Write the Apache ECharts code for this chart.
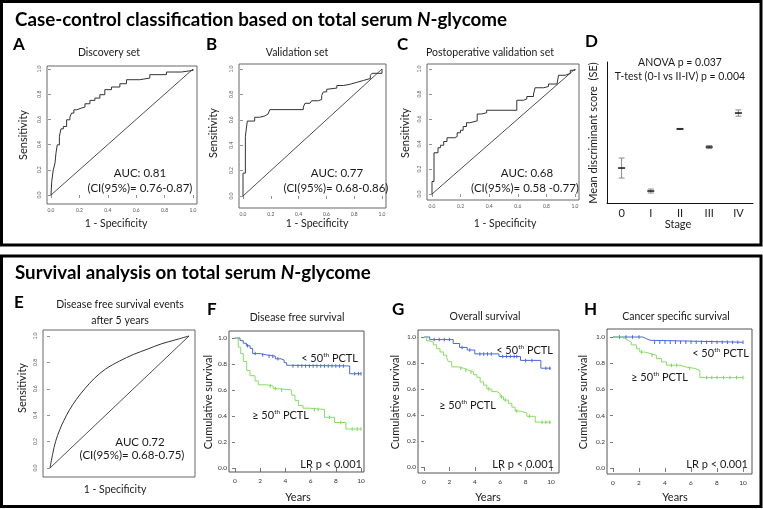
<!DOCTYPE html>
<html><head><meta charset="utf-8">
<script src="https://cdn.jsdelivr.net/npm/echarts@6/dist/echarts.min.js"></script>
<style>html,body{margin:0;padding:0;background:#fff}#c{width:763px;height:509px}</style>
</head><body><div id="c"></div>
<script>
// ---------------- DATA ----------------
const rocTicks = [0, 0.2, 0.4, 0.6, 0.8, 1.0];
const survYTicks = [0, 0.2, 0.4, 0.6, 0.8, 1.0];
const survXTicks = [0, 2, 4, 6, 8, 10];
const diagonal = [0, 1];

// A: Discovery set ROC
const rocAFpr = [0, 0.005, 0.016, 0.028, 0.035, 0.044, 0.059, 0.070, 0.087, 0.110, 0.133, 0.145, 0.161, 0.180, 0.215, 0.239, 0.274, 0.309, 0.344, 0.379, 0.426, 0.485, 0.532, 0.625, 0.696, 0.813, 0.918, 1];
const rocATpr = [0, 0.106, 0.199, 0.252, 0.332, 0.398, 0.464, 0.525, 0.544, 0.597, 0.618, 0.650, 0.676, 0.690, 0.698, 0.724, 0.751, 0.769, 0.796, 0.836, 0.857, 0.883, 0.915, 0.928, 0.955, 0.976, 0.989, 1];
// B: Validation set ROC
const rocBFpr = [0, 0, 0.017, 0.031, 0.084, 0.12, 0.157, 0.18, 0.193, 0.434, 0.446, 0.482, 0.494, 0.542, 0.566, 0.578, 0.602, 0.614, 0.675, 0.723, 0.771, 0.819, 0.867, 0.916, 0.928, 1, 1];
const rocBTpr = [0, 0.18, 0.47, 0.59, 0.62, 0.63, 0.645, 0.66, 0.68, 0.70, 0.73, 0.74, 0.75, 0.76, 0.79, 0.82, 0.84, 0.85, 0.87, 0.88, 0.895, 0.91, 0.925, 0.95, 0.966, 0.966, 1];
// C: Postoperative validation set ROC
const rocCFpr = [0, 0, 0.014, 0.042, 0.059, 0.082, 0.105, 0.159, 0.176, 0.199, 0.218, 0.241, 0.265, 0.316, 0.347, 0.382, 0.593, 0.639, 0.663, 0.710, 0.721, 0.780, 0.815, 0.874, 0.885, 0.932, 0.967, 1];
const rocCTpr = [0, 0.10, 0.33, 0.37, 0.39, 0.42, 0.45, 0.46, 0.49, 0.51, 0.54, 0.57, 0.585, 0.64, 0.65, 0.67, 0.75, 0.76, 0.78, 0.80, 0.85, 0.86, 0.88, 0.89, 0.95, 0.965, 0.99, 1];
// D: mean discriminant score by stage (arbitrary units)
const stageCategories = ['0', 'I', 'II', 'III', 'IV'];
const stageMean = [2.48, 0.85, 5.25, 3.97, 6.38];
const stageSE = [0.71, 0.14, 0.04, 0.11, 0.22];
// E: DFS events ROC (smooth)
const rocEFpr = [0, 0.02, 0.04, 0.07, 0.10, 0.14, 0.19, 0.25, 0.32, 0.40, 0.50, 0.60, 0.70, 0.80, 0.90, 1];
const rocETpr = [0, 0.11, 0.20, 0.29, 0.36, 0.44, 0.52, 0.60, 0.68, 0.75, 0.81, 0.86, 0.90, 0.94, 0.97, 1];
// F: Disease free survival
const dfsLowT = [0, 0.4, 0.65, 0.9, 1.2, 1.4, 2.0, 2.5, 3.2, 3.65, 3.9, 4.1, 4.4, 9.1, 10];
const dfsLowS = [1, 0.98, 0.96, 0.94, 0.92, 0.88, 0.87, 0.86, 0.84, 0.83, 0.81, 0.79, 0.785, 0.725, 0.725];
const dfsLowCensor = [1.0, 1.6, 2.2, 2.7, 3.0, 3.4, 4.6, 5.0, 5.3, 5.6, 5.9, 6.2, 6.5, 6.8, 7.1, 7.4, 7.7, 8.0, 8.3, 8.6, 9.5, 9.8, 10];
const dfsHighT = [0, 0.26, 0.45, 0.66, 0.93, 1.19, 1.59, 1.85, 2.51, 3.04, 3.44, 4.5, 4.76, 5.03, 5.4, 5.9, 7.1, 7.9, 8.8, 10];
const dfsHighS = [1, 0.93, 0.88, 0.82, 0.75, 0.71, 0.67, 0.64, 0.63, 0.61, 0.60, 0.56, 0.52, 0.48, 0.46, 0.45, 0.39, 0.35, 0.30, 0.30];
const dfsHighCensor = [2.8, 3.2, 3.7, 6.3, 6.6, 7.5, 8.4, 9.3, 9.7, 10];
// G: Overall survival
const osLowT = [0, 0.45, 2.3, 2.8, 3.4, 4.0, 5.9, 7.6, 9.2, 10];
const osLowS = [1, 0.98, 0.95, 0.92, 0.90, 0.87, 0.85, 0.82, 0.76, 0.76];
const osLowCensor = [0.8, 1.2, 1.6, 2.0, 3.0, 3.6, 4.4, 4.7, 5.0, 5.3, 6.2, 6.5, 6.8, 7.1, 7.3, 8.0, 8.5, 9.6, 9.9];
const osHighT = [0, 0.21, 0.47, 0.74, 1.0, 1.26, 1.53, 1.79, 1.92, 2.18, 2.71, 3.1, 3.5, 3.9, 4.16, 4.42, 4.68, 4.95, 5.34, 5.74, 6.0, 6.26, 6.66, 6.92, 7.18, 7.58, 8.1, 8.76, 10];
const osHighS = [1, 0.97, 0.96, 0.94, 0.91, 0.885, 0.86, 0.84, 0.81, 0.77, 0.76, 0.745, 0.73, 0.71, 0.69, 0.655, 0.63, 0.60, 0.58, 0.565, 0.54, 0.515, 0.49, 0.46, 0.43, 0.415, 0.39, 0.345, 0.345];
const osHighCensor = [2.9, 3.3, 3.7, 5.1, 6.1, 6.4, 7.3, 8.3, 9.3, 9.6, 9.9];
// H: Cancer specific survival
const cssLowT = [0, 2.3, 2.5, 2.85, 10];
const cssLowS = [1, 0.99, 0.975, 0.96, 0.96];
const cssLowCensor = [0.5, 1.0, 1.5, 2.0, 3.2, 3.6, 4.0, 4.4, 4.8, 5.2, 5.6, 6.0, 6.4, 6.8, 7.2, 7.6, 8.0, 8.4, 8.8, 9.2, 9.6, 10];
const cssHighT = [0, 0.5, 0.9, 1.16, 1.41, 1.8, 2.06, 2.44, 2.83, 3.34, 3.73, 4.11, 5.14, 5.66, 6.3, 6.68, 10];
const cssHighS = [1, 0.99, 0.975, 0.96, 0.94, 0.91, 0.885, 0.875, 0.86, 0.835, 0.81, 0.785, 0.77, 0.76, 0.745, 0.69, 0.69];
const cssHighCensor = [2.2, 3.0, 4.5, 4.9, 5.9, 7.2, 7.6, 8.0, 8.5, 9.0, 9.5, 10];

// ---------------- LAYOUT ----------------
const FONT = 'Lato, "Open Sans", sans-serif';
const BLUE = '#4a68d8', BLUE_D = '#2a44b8', GREEN = '#86de62', GREEN_D = '#5cc23a';
// box: [left, top, right, bottom]; x/y: [pixel of 0, pixel of unit, unit]
const L = {
  A: {box: [47, 66, 197, 204], x: [51, 193, 1], y: [195, 69, 1]},
  B: {box: [239, 64, 386, 208], x: [243, 382, 1], y: [196, 69, 1]},
  C: {box: [427, 64, 579, 200], x: [432, 575, 1], y: [194, 69, 1]},
  E: {box: [43, 330, 195, 477], x: [50, 189, 1], y: [468, 336, 1]},
  F: {box: [229, 331, 364, 472], x: [235, 361, 10], y: [468, 338, 1]},
  G: {box: [418, 330, 559, 473], x: [424, 551, 10], y: [467, 337, 1]},
  H: {box: [607, 329, 752, 474], x: [613, 743, 10], y: [468, 337, 1]}
};
function gridOf(p) {
  return {left: p.box[0], top: p.box[1], width: p.box[2] - p.box[0], height: p.box[3] - p.box[1],
    show: true, borderColor: '#666', borderWidth: 1, containLabel: false, backgroundColor: 'transparent'};
}
function xRange(p) {
  const ppu = (p.x[1] - p.x[0]) / p.x[2];
  return {min: (p.box[0] - p.x[0]) / ppu, max: (p.box[2] - p.x[0]) / ppu};
}
function yRange(p) {
  const ppu = (p.y[0] - p.y[1]) / p.y[2];
  return {min: (p.y[0] - p.box[3]) / ppu, max: (p.y[0] - p.box[1]) / ppu};
}
function zip(a, b) { return a.map((v, i) => [v, b[i]]); }
function stepAt(T, S, t) { let s = S[0]; for (let i = 0; i < T.length; i++) { if (T[i] <= t) s = S[i]; } return s; }

const grids = [], xAxes = [], yAxes = [], series = [];
function rocPanel(key, showXLabels) {
  const p = L[key]; const gi = grids.length;
  grids.push(gridOf(p));
  const xr = xRange(p), yr = yRange(p);
  xAxes.push({gridIndex: gi, type: 'value', min: xr.min, max: xr.max, axisLine: {show: false}, splitLine: {show: false},
    axisTick: {show: showXLabels, customValues: rocTicks, length: 3, lineStyle: {color: '#777', width: 0.8}},
    axisLabel: {show: showXLabels, customValues: rocTicks, formatter: v => v.toFixed(1), fontSize: 5, color: '#555', margin: 4, fontFamily: FONT}});
  yAxes.push({gridIndex: gi, type: 'value', min: yr.min, max: yr.max, axisLine: {show: false}, splitLine: {show: false},
    axisTick: {show: true, customValues: rocTicks, length: 3, lineStyle: {color: '#777', width: 0.8}},
    axisLabel: {show: true, customValues: rocTicks, formatter: v => v.toFixed(1), fontSize: 5, color: '#555', margin: 5, rotate: 90, fontFamily: FONT}});
  return gi;
}
function survPanel(key) {
  const p = L[key]; const gi = grids.length;
  const g = gridOf(p); g.borderColor = '#555';
  grids.push(g);
  const xr = xRange(p), yr = yRange(p);
  xAxes.push({gridIndex: gi, type: 'value', min: xr.min, max: xr.max, axisLine: {show: false}, splitLine: {show: false},
    axisTick: {show: true, customValues: survXTicks, length: 4, lineStyle: {color: '#555', width: 0.8}},
    axisLabel: {show: true, customValues: survXTicks, formatter: v => String(v), fontSize: 6.5, color: '#333', margin: 5, fontFamily: FONT}});
  yAxes.push({gridIndex: gi, type: 'value', min: yr.min, max: yr.max, axisLine: {show: false}, splitLine: {show: false},
    axisTick: {show: true, customValues: survYTicks, length: 3, lineStyle: {color: '#555', width: 0.8}},
    axisLabel: {show: true, customValues: survYTicks, formatter: v => v.toFixed(1), fontSize: 6.5, color: '#333', margin: 2, fontFamily: FONT}});
  return gi;
}
function rocSeries(gi, fpr, tpr, smooth) {
  series.push({type: 'line', xAxisIndex: gi, yAxisIndex: gi, data: zip(diagonal, diagonal), showSymbol: false, silent: true,
    lineStyle: {color: '#222', width: 0.8}});
  const s = {type: 'line', xAxisIndex: gi, yAxisIndex: gi, data: zip(fpr, tpr), showSymbol: false, silent: true,
    lineStyle: {color: '#333', width: 1}};
  if (smooth) s.smooth = 0.35; else s.step = 'end';
  series.push(s);
}
function kmSeries(gi, T, S, C, color, dark) {
  series.push({type: 'line', xAxisIndex: gi, yAxisIndex: gi, data: zip(T, S), step: 'end', showSymbol: false, silent: true,
    lineStyle: {color: color, width: 1}});
  series.push({type: 'scatter', xAxisIndex: gi, yAxisIndex: gi, data: C.map(t => [t, stepAt(T, S, t)]), symbol: 'rect',
    symbolSize: [1, 3.5], itemStyle: {color: dark}, silent: true});
}

const gA = rocPanel('A', true); rocSeries(gA, rocAFpr, rocATpr, false);
const gB = rocPanel('B', true); rocSeries(gB, rocBFpr, rocBTpr, false);
const gC = rocPanel('C', true); rocSeries(gC, rocCFpr, rocCTpr, false);
const gE = rocPanel('E', false); rocSeries(gE, rocEFpr, rocETpr, true);
// D panel
const gD = grids.length;
grids.push({left: 607, top: 62, width: 146, height: 141, show: false, containLabel: false});
xAxes.push({gridIndex: gD, type: 'category', data: stageCategories, boundaryGap: true,
  axisLine: {show: true, lineStyle: {color: '#111', width: 1}}, axisTick: {show: false},
  axisLabel: {fontSize: 11, color: '#222', margin: 5, fontFamily: FONT}, splitLine: {show: false}});
yAxes.push({gridIndex: gD, type: 'value', min: 0, max: 10, axisLine: {show: true, lineStyle: {color: '#111', width: 1}},
  axisTick: {show: false}, axisLabel: {show: false}, splitLine: {show: false}});
series.push({type: 'custom', xAxisIndex: gD, yAxisIndex: gD, silent: true,
  data: stageCategories.map((c, i) => [i, stageMean[i], stageMean[i] - stageSE[i], stageMean[i] + stageSE[i]]),
  renderItem: function (params, api) {
    const x = api.value(0);
    const m = api.coord([x, api.value(1)]), lo = api.coord([x, api.value(2)]), hi = api.coord([x, api.value(3)]);
    const g = '#8a8a8a';
    return {type: 'group', children: [
      {type: 'line', shape: {x1: m[0], y1: lo[1], x2: m[0], y2: hi[1]}, style: {stroke: g, lineWidth: 1}},
      {type: 'line', shape: {x1: m[0] - 3, y1: lo[1], x2: m[0] + 3, y2: lo[1]}, style: {stroke: g, lineWidth: 1}},
      {type: 'line', shape: {x1: m[0] - 3, y1: hi[1], x2: m[0] + 3, y2: hi[1]}, style: {stroke: g, lineWidth: 1}},
      {type: 'line', shape: {x1: m[0] - 3.5, y1: m[1], x2: m[0] + 3.5, y2: m[1]}, style: {stroke: '#111', lineWidth: 1.5}}
    ]};
  }});

const gF = survPanel('F'); kmSeries(gF, dfsLowT, dfsLowS, dfsLowCensor, BLUE, BLUE_D); kmSeries(gF, dfsHighT, dfsHighS, dfsHighCensor, GREEN, GREEN_D);
const gG = survPanel('G'); kmSeries(gG, osLowT, osLowS, osLowCensor, BLUE, BLUE_D); kmSeries(gG, osHighT, osHighS, osHighCensor, GREEN, GREEN_D);
const gH = survPanel('H'); kmSeries(gH, cssLowT, cssLowS, cssLowCensor, BLUE, BLUE_D); kmSeries(gH, cssHighT, cssHighS, cssHighCensor, GREEN, GREEN_D);

// ---------------- TEXT ----------------
function T(text, x, y, size, opt) {
  opt = opt || {};
  const align = opt.align || 'center';
  return {type: 'text', x: x, y: y, rotation: opt.rot || 0, z: 100,
    style: {text: text, x: 0, y: 0, fontSize: size, fontFamily: FONT, fontWeight: opt.bold ? 'bold' : 'normal',
      fill: opt.color || '#1a1a1a', align: align, textAlign: align, verticalAlign: 'middle', textVerticalAlign: 'middle'}};
}
// right-aligned "50th PCTL" label (x = right end)
function pctl(sym, x, y) {
  return {type: 'text', x: x, y: y, z: 100, style: {text: '{a|' + sym + ' 50}{s|th}{a| PCTL}', x: 0, y: 0,
    align: 'right', textAlign: 'right', verticalAlign: 'middle', textVerticalAlign: 'middle',
    rich: {a: {fontSize: 11, fontFamily: FONT, fill: '#1a1a1a', color: '#1a1a1a', lineHeight: 14},
      s: {fontSize: 6.5, fontFamily: FONT, fill: '#1a1a1a', color: '#1a1a1a', verticalAlign: 'top', lineHeight: 8}}}};
}
const cv = document.createElement('canvas').getContext('2d');
cv.font = 'bold 18px Lato';
const titleW = cv.measureText('Case-control classification based on total serum N-glycome').width || 493;
const titleScale = 493 / titleW;
function titleText(main, x, y) {
  return {type: 'text', x: x, y: y, scaleX: titleScale, z: 100, style: {text: '{b|' + main + '}{i|N}{b|-glycome}', x: 0, y: 0,
    align: 'left', textAlign: 'left', verticalAlign: 'middle', textVerticalAlign: 'middle',
    rich: {b: {fontSize: 18, fontWeight: 'bold', fontFamily: FONT, fill: '#000', color: '#000'},
      i: {fontSize: 18, fontWeight: 'bold', fontStyle: 'italic', fontFamily: FONT, fill: '#000', color: '#000'}}}};
}
const R90 = Math.PI / 2;
const graphics = [
  {type: 'rect', z: 90, shape: {x: 1.5, y: 1.5, width: 759.5, height: 243.5}, style: {fill: 'none', stroke: '#000', lineWidth: 3}},
  {type: 'rect', z: 90, shape: {x: 1.5, y: 256, width: 759.5, height: 250.5}, style: {fill: 'none', stroke: '#000', lineWidth: 3}},
  titleText('Case-control classification based on total serum ', 15, 20),
  titleText('Survival analysis on total serum ', 15, 273),
  T('A', 13, 45, 17, {bold: true, align: 'left', color: '#000'}),
  T('B', 206, 45, 17, {bold: true, align: 'left', color: '#000'}),
  T('C', 397, 45, 17, {bold: true, align: 'left', color: '#000'}),
  T('D', 585, 42, 17, {bold: true, align: 'left', color: '#000'}),
  T('E', 14, 303, 17, {bold: true, align: 'left', color: '#000'}),
  T('F', 207, 310, 17, {bold: true, align: 'left', color: '#000'}),
  T('G', 392, 310, 17, {bold: true, align: 'left', color: '#000'}),
  T('H', 584, 310, 17, {bold: true, align: 'left', color: '#000'}),
  T('Discovery set', 109, 53, 10.5), T('Validation set', 297, 53, 10.5), T('Postoperative validation set', 490, 53, 10.5),
  T('Sensitivity', 23, 135, 11, {rot: R90}), T('Sensitivity', 213, 133, 11, {rot: R90}), T('Sensitivity', 405, 133, 11, {rot: R90}),
  T('1 - Specificity', 116, 224, 10.5), T('1 - Specificity', 317, 224, 10.5), T('1 - Specificity', 505, 224, 10.5),
  T('AUC: 0.81', 140, 173, 11.5), T('(CI(95%)= 0.76-0.87)', 140, 188, 11.5),
  T('AUC: 0.77', 337, 173, 11.5), T('(CI(95%)= 0.68-0.86)', 336, 188, 11.5),
  T('AUC: 0.68', 527, 173, 11.5), T('(CI(95%)= 0.58 -0.77)', 525, 188, 11.5),
  T('ANOVA p = 0.037', 680, 63, 10.5), T('T-test (0-I vs II-IV) p = 0.004', 680, 77, 10.5),
  T('Mean discriminant score  (SE)', 593, 133, 11, {rot: R90}), T('Stage', 678, 224, 11),
  T('Disease free survival events', 120, 305, 10.5), T('after 5 years', 120, 321, 10.5),
  T('Sensitivity', 22, 388, 11, {rot: R90}), T('1 - Specificity', 115, 490, 10.5),
  T('AUC 0.72', 140, 442, 11.5), T('(CI(95%)= 0.68-0.75)', 132, 455, 11.5),
  T('Disease free survival', 297, 318, 10.5), T('Overall survival', 485, 317, 10.5), T('Cancer specific survival', 676, 317, 10.5),
  T('Cumulative survival', 208, 402, 11, {rot: R90}), T('Cumulative survival', 395, 402, 11, {rot: R90}), T('Cumulative survival', 583, 402, 11, {rot: R90}),
  T('Years', 298, 497, 11), T('Years', 488, 497, 11), T('Years', 675, 497, 11),
  pctl('<', 358, 358), pctl('\u2265', 309, 415), T('LR p < 0.001', 362, 464, 11, {align: 'right'}),
  pctl('<', 553, 350), pctl('\u2265', 496, 405), T('LR p < 0.001', 554, 464, 11, {align: 'right'}),
  pctl('<', 749, 353), pctl('\u2265', 688, 377), T('LR p < 0.001', 748, 464, 11, {align: 'right'})
];

const chart = echarts.init(document.getElementById('c'), null, {renderer: 'canvas', width: 763, height: 509});
chart.setOption({
  animation: false, backgroundColor: '#fff',
  grid: grids, xAxis: xAxes, yAxis: yAxes, series: series, graphic: {elements: graphics}
});
</script></body></html>
